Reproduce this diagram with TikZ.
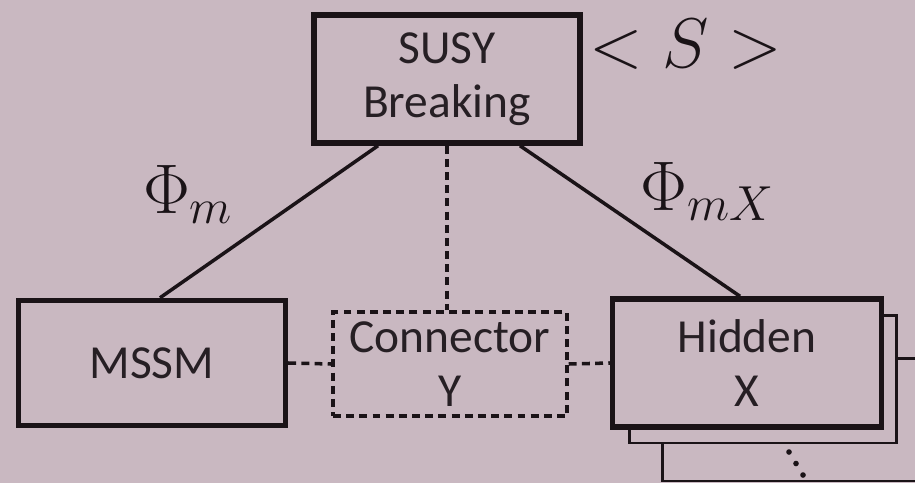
\RequirePackage{fix-cm}
\documentclass[tikz,border=0pt]{standalone}
\usepackage{fontspec}
\setsansfont{Carlito}
\usetikzlibrary{positioning}
\definecolor{SbPaper}{HTML}{C9B8C1}
\definecolor{SbInk}{HTML}{1A1317}
\definecolor{SbText}{HTML}{261F24}
\tikzset{
  sbbox/.style={
    draw=SbInk,
    fill=SbPaper,
    line width=3.1pt,
    align=center,
    inner sep=0pt,
    text=SbText,
    font=\sffamily\fontsize{27}{31}\selectfont
  },
  sbdashbox/.style={
    sbbox,
    line width=2pt,
    dash pattern=on 4.5pt off 3pt
  },
  sbback/.style={draw=SbInk,fill=SbPaper,line width=1.7pt,inner sep=0pt},
  sblink/.style={draw=SbInk,line width=2pt},
  sbdash/.style={sblink,dash pattern=on 4.5pt off 3pt},
  sbmath/.style={inner sep=0pt,text=SbInk,font=\fontsize{40}{48}\selectfont}
}
\begin{document}
\begin{tikzpicture}[x=0.02cm,y=-0.02cm]
    \clip (0,0) rectangle (915,483);
    \fill[SbPaper] (0,0) rectangle (915,483);
    % boxes, the hidden stack back to front
    \node[sbbox,minimum width=5.32cm,minimum height=2.56cm] (susy) at (447,79) {SUSY\\Breaking};
    \node[sbbox,minimum width=5.34cm,minimum height=2.5cm] (mssm) at (152,363) {MSSM};
    \node[sbdashbox,minimum width=4.68cm,minimum height=2.08cm] (conn) at (450,364) {Connector\\Y};
    \node[sbback,minimum width=5.6cm,minimum height=2.46cm] (hidden2) at (802,419.5) {};
    \node[sbback,minimum width=5.34cm,minimum height=2.56cm] (hidden1) at (763,379) {};
    \node[sbbox,minimum width=5.38cm,minimum height=2.56cm] (hidden) at (747,363) {Hidden\\X};
    \foreach \k in {0,1,2}
      \fill[SbInk] (789+7*\k,452+11.5*\k) circle (1.6pt);
    % links
    \draw[sblink] ([xshift=-1.38cm]susy.south) -- ([xshift=.16cm]mssm.north);
    \draw[sblink] ([xshift=1.46cm]susy.south) -- ([xshift=-.14cm]hidden.north);
    \draw[sbdash] (susy.south) -- (susy.south |- conn.north);
    \draw[sbdash] (mssm.east) -- (conn.west);
    \draw[sbdash] (conn.east) -- (hidden.west);
    % labels
    \node[sbmath,anchor=base] (vev) at (686,68) {$<S>$};
    \node[sbmath,anchor=base] (phim) at (188,213) {$\Phi_m$};
    \node[sbmath,anchor=base] (phimx) at (707,210) {$\Phi_{mX}$};
  \end{tikzpicture}
\end{document}
